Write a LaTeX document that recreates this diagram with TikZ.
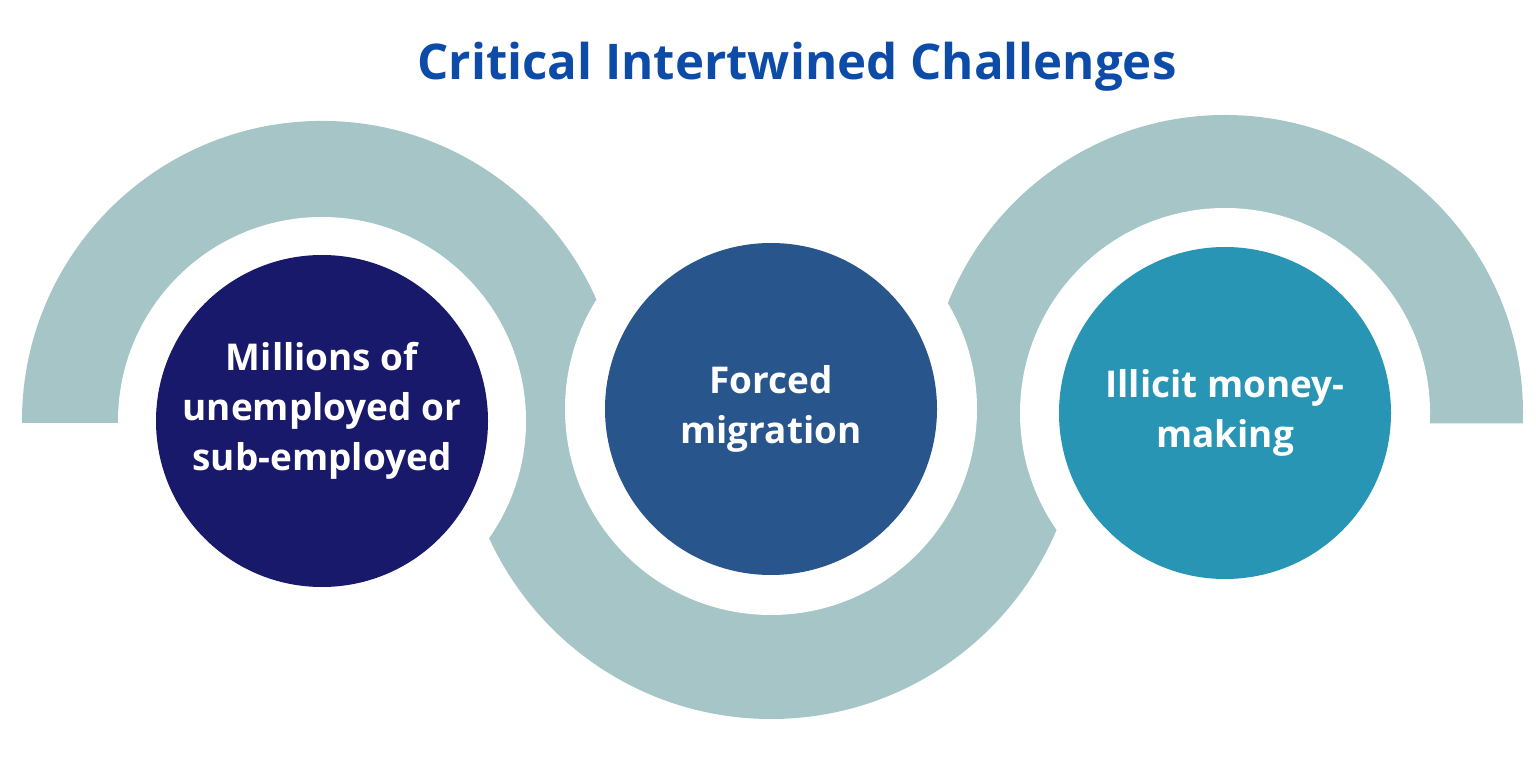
\documentclass[tikz,border=0pt]{standalone}
\usepackage{fontspec}
\setmainfont{Open Sans}
\usepackage{xcolor}
\definecolor{titleblue}{HTML}{0C4CA8}
\definecolor{ringgray}{HTML}{A5C5C6}
\definecolor{navyfill}{HTML}{18196A}
\definecolor{midfill}{HTML}{28558B}
\definecolor{tealfill}{HTML}{2795B3}

\begin{document}
\begin{tikzpicture}[
	bubble/.style={circle, minimum size=3.32cm, inner sep=0pt, text=white,
	align=center, font=\bfseries\fontsize{10.5}{14.2}\selectfont},
	bubbletext/.style={text=white, align=center,
	font=\bfseries\fontsize{10.5}{14.2}\selectfont},
	ring/.style={fill=ringgray},
	hole/.style={fill=white}
	]
	\useasboundingbox (0,0) rectangle (15.36,7.59);
	\coordinate (cL) at (3.22,3.38);
	\coordinate (cM) at (7.71,3.50);
	\coordinate (cR) at (12.25,3.46);

	% the snake of rings
	\fill[ring] (cL) -- ++(0,-0.02) -- ++(-3.00,0) arc[start angle=180.4, end angle=-30, radius=3.00] -- cycle;
	\fill[ring] (cM) -- ++(180:3.10) arc[start angle=180, end angle=360, radius=3.10] -- cycle;
	\fill[ring] (cR) -- ++(0,-0.104) -- ++(2.978,0) arc[start angle=-2, end angle=210, radius=2.98] -- cycle;
	\fill[hole] (cL) circle[radius=2.04];
	\fill[hole] (cM) circle[radius=2.06];
	\fill[hole] (cR) circle[radius=2.05];

	\node[bubble, fill=navyfill] (jobs) at (cL) {};
	\node[bubbletext, yshift=0.1cm] (jobstext) at (jobs) {Millions of\\unemployed or\\sub-employed};
	\node[bubble, fill=midfill] (migration) at (cM) {Forced\\migration};
	\node[bubble, fill=tealfill] (money) at (cR) {Illicit money-\\making};

	\node[text=titleblue, anchor=base, font=\bfseries\fontsize{14}{17}\selectfont] (title) at (7.97,6.797) {Critical Intertwined Challenges};
\end{tikzpicture}
\end{document}
